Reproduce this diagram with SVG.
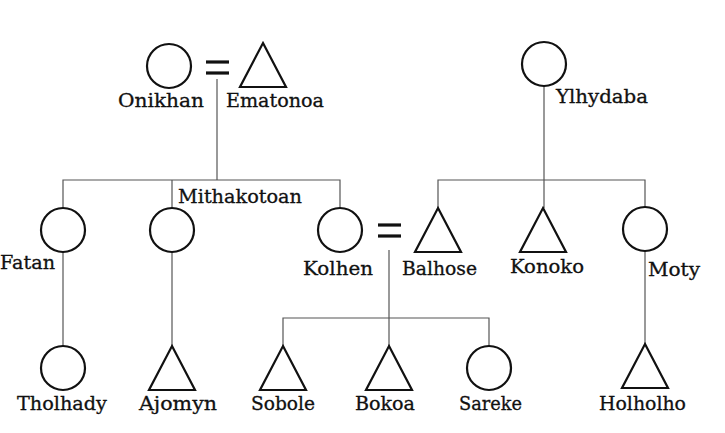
<svg xmlns="http://www.w3.org/2000/svg" width="725" height="433" viewBox="0 0 725 433">
<style>
.sym{fill:none;stroke:#111;stroke-width:2.2}
.eq{stroke:#111;stroke-width:3.2}
.con{fill:none;stroke:#555;stroke-width:1.2}
text{font-family:"DejaVu Serif","Liberation Serif",serif;font-size:18px;fill:#111;stroke:#111;stroke-width:0.3}
</style>
<rect width="725" height="433" fill="#fff"/>
<defs>
<circle id="c" r="22" class="sym"/>
<path id="t" d="M0,0 L23,44 L-23,44 Z" class="sym"/>
</defs>
<g id="connectors">
<line class="con" x1="217" y1="79" x2="217" y2="180"/>
<polyline class="con" points="63,208 63,180 340,180 340,208"/>
<line class="con" x1="172" y1="180" x2="172" y2="208"/>
<line class="con" x1="544" y1="86" x2="544" y2="208"/>
<polyline class="con" points="438,208 438,180 645,180 645,207"/>
<line class="con" x1="389" y1="250" x2="389" y2="346"/>
<polyline class="con" points="283,346 283,318 489,318 489,346"/>
<line class="con" x1="63" y1="252" x2="63" y2="346"/>
<line class="con" x1="172" y1="252" x2="172" y2="346"/>
<line class="con" x1="645" y1="251" x2="645" y2="344"/>
</g>
<g id="onikhan"><use href="#c" x="169" y="66"/><text x="118" y="107" textLength="86" lengthAdjust="spacingAndGlyphs">Onikhan</text></g>
<g id="marriage1"><line class="eq" x1="206" y1="62" x2="229" y2="62"/><line class="eq" x1="206" y1="73" x2="229" y2="73"/></g>
<g id="ematonoa"><use href="#t" x="263" y="43"/><text x="226" y="107" textLength="98" lengthAdjust="spacingAndGlyphs">Ematonoa</text></g>
<g id="ylhydaba"><use href="#c" x="544" y="64"/><text x="556" y="103" textLength="92" lengthAdjust="spacingAndGlyphs">Ylhydaba</text></g>
<g id="fatan"><use href="#c" x="63" y="230"/><text x="0" y="269" textLength="55" lengthAdjust="spacingAndGlyphs">Fatan</text></g>
<g id="mithakotoan"><use href="#c" x="172" y="230"/><text x="178" y="203" textLength="124" lengthAdjust="spacingAndGlyphs">Mithakotoan</text></g>
<g id="kolhen"><use href="#c" x="340" y="230"/><text x="303" y="275" textLength="70" lengthAdjust="spacingAndGlyphs">Kolhen</text></g>
<g id="marriage2"><line class="eq" x1="378" y1="225" x2="401" y2="225"/><line class="eq" x1="378" y1="236" x2="401" y2="236"/></g>
<g id="balhose"><use href="#t" x="438" y="208"/><text x="402" y="275" textLength="75" lengthAdjust="spacingAndGlyphs">Balhose</text></g>
<g id="konoko"><use href="#t" x="543" y="208"/><text x="510" y="273" textLength="74" lengthAdjust="spacingAndGlyphs">Konoko</text></g>
<g id="moty"><use href="#c" x="645" y="229"/><text x="648" y="276" textLength="52" lengthAdjust="spacingAndGlyphs">Moty</text></g>
<g id="tholhady"><use href="#c" x="63" y="368"/><text x="17" y="410" textLength="90" lengthAdjust="spacingAndGlyphs">Tholhady</text></g>
<g id="ajomyn"><use href="#t" x="172" y="346"/><text x="139" y="410" textLength="78" lengthAdjust="spacingAndGlyphs">Ajomyn</text></g>
<g id="sobole"><use href="#t" x="283" y="346"/><text x="251" y="410" textLength="64" lengthAdjust="spacingAndGlyphs">Sobole</text></g>
<g id="bokoa"><use href="#t" x="389" y="346"/><text x="355" y="410" textLength="60" lengthAdjust="spacingAndGlyphs">Bokoa</text></g>
<g id="sareke"><use href="#c" x="489" y="368"/><text x="459" y="410" textLength="63" lengthAdjust="spacingAndGlyphs">Sareke</text></g>
<g id="holholho"><use href="#t" x="645" y="344"/><text x="599" y="410" textLength="87" lengthAdjust="spacingAndGlyphs">Holholho</text></g>
</svg>
